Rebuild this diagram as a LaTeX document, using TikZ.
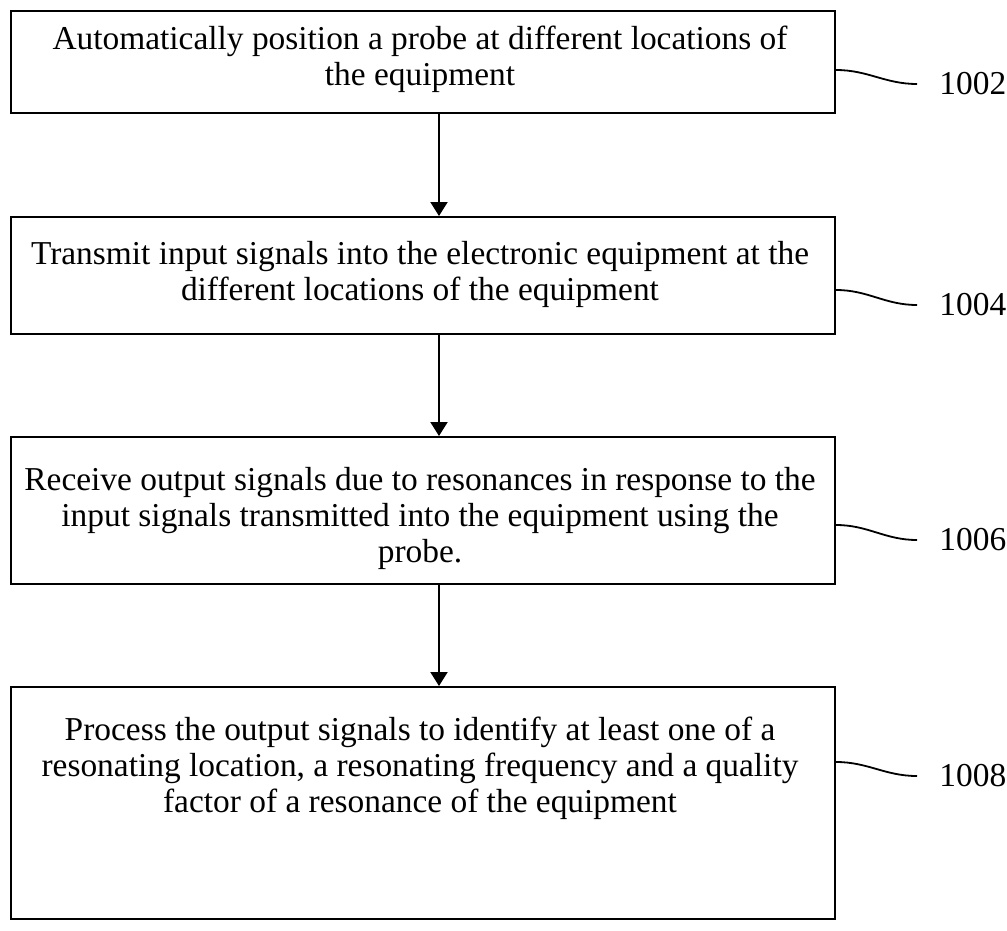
\documentclass[tikz,border=0pt]{standalone}
\usepackage{fontspec}
\setmainfont{Liberation Serif}
\usetikzlibrary{arrows.meta}

\tikzset{
  stepbox/.style={draw, line width=1pt, minimum width=412pt, inner sep=0pt},
  steptext/.style={align=center, font=\fontsize{16.7}{18}\selectfont, inner sep=0pt},
  reflabel/.style={font=\fontsize{16.7}{18}\selectfont, anchor=west, inner ysep=0pt, inner xsep=11pt},
  leader/.style={line width=0.9pt},
  flow/.style={line width=1pt, -{Triangle[width=8.5pt,length=7pt]}}
}

\begin{document}
\begin{tikzpicture}[x=0.5pt,y=-0.5pt]
\useasboundingbox (0,0) rectangle (1007,931);
% process steps
\node[stepbox, minimum height=51pt] (b1) at (423,62) {};
\node[stepbox, minimum height=58.5pt] (b2) at (423,275.5) {};
\node[stepbox, minimum height=73.5pt] (b3) at (423,510.5) {};
\node[stepbox, minimum height=116pt] (b4) at (423,803) {};
\node[steptext] (t1) at (420,59) {Automatically position a probe at different locations of\\the equipment};
\node[steptext] (t2) at (420,274) {Transmit input signals into the electronic equipment at the\\different locations of the equipment};
\node[steptext] (t3) at (420,518) {Receive output signals due to resonances in response to the\\input signals transmitted into the equipment using the\\probe.};
\node[steptext] (t4) at (420,768) {Process the output signals to identify at least one of a\\resonating location, a resonating frequency and a quality\\factor of a resonance of the equipment};
% reference numerals
\node[reflabel] (l1) at (917,84) {1002};
\node[reflabel] (l2) at (917,305) {1004};
\node[reflabel] (l3) at (917,540) {1006};
\node[reflabel] (l4) at (917,776) {1008};
\draw[leader] ([yshift=-4pt]b1.east) to[out=0,in=180] (l1.west);
\draw[leader] ([yshift=-7.25pt]b2.east) to[out=0,in=180] (l2.west);
\draw[leader] ([yshift=-7.25pt]b3.east) to[out=0,in=180] (l3.west);
\draw[leader] ([yshift=20.5pt]b4.east) to[out=0,in=180] (l4.west);
% flow
\coordinate (ax) at (439,0);
\foreach \a/\b in {b1/b2,b2/b3,b3/b4}
  \draw[flow] (\a.south -| ax) -- (\b.north -| ax);
\end{tikzpicture}
\end{document}
